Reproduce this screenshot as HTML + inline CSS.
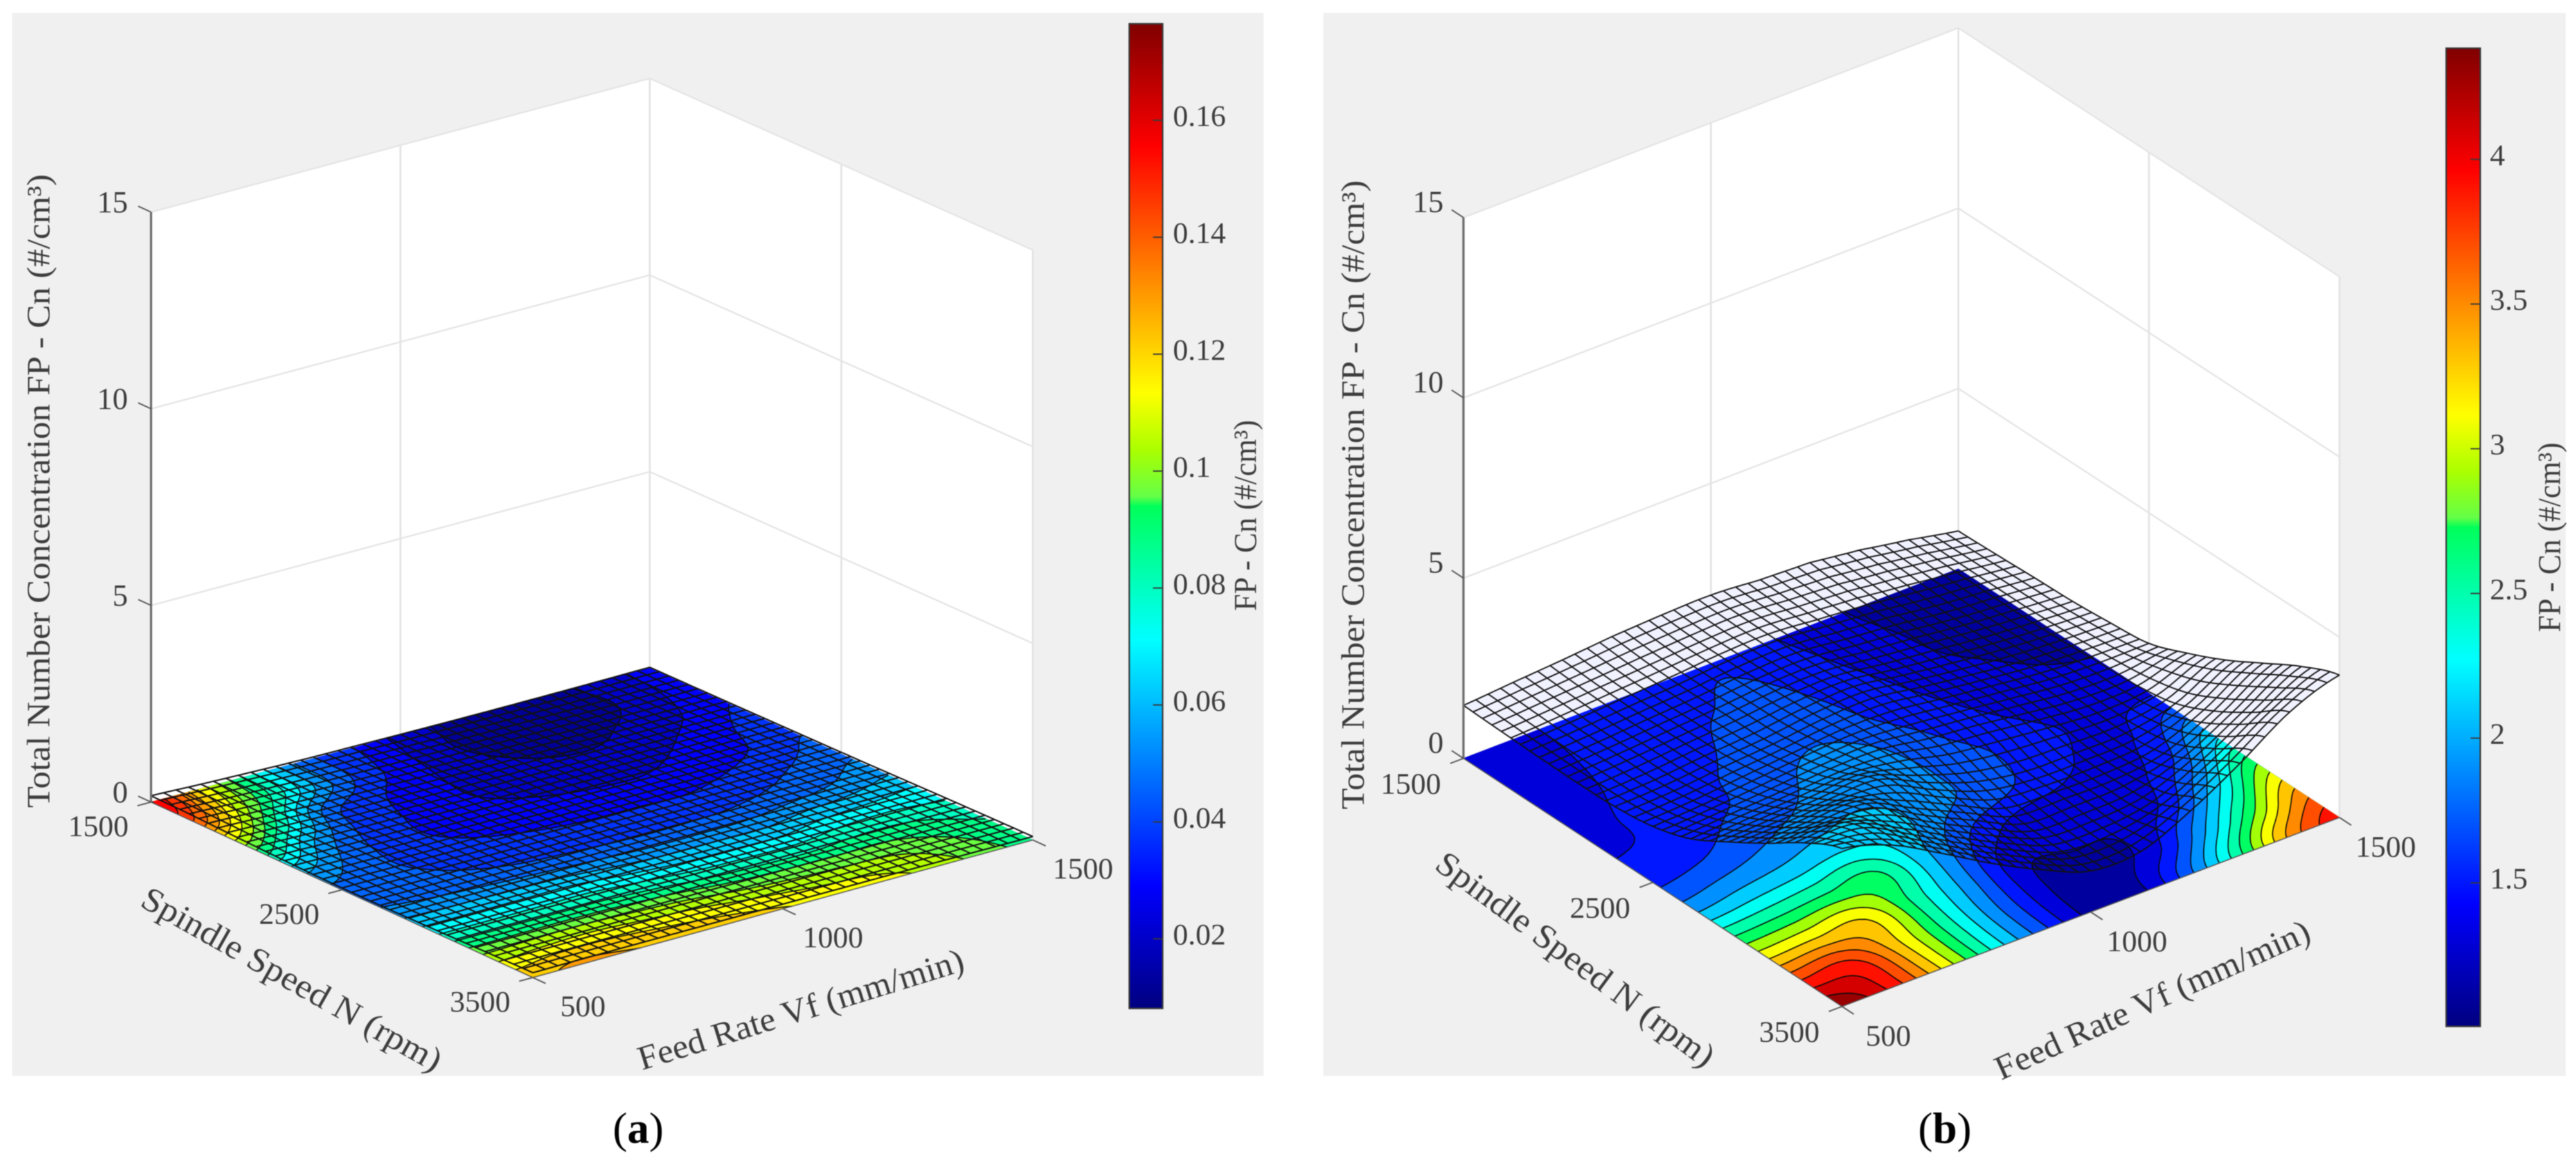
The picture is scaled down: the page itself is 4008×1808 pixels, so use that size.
<!DOCTYPE html>
<html lang="en">
<head>
<meta charset="utf-8">
<title>Total Number Concentration FP surfaces</title>
<style>
html,body{margin:0;padding:0;background:#fff;width:4008px;height:1808px;overflow:hidden}
svg{display:block;filter:blur(0.9px)}
text{font-family:"Liberation Serif",serif;fill:#3d3d3d}
</style>
</head>
<body>
<svg id="figure" xmlns="http://www.w3.org/2000/svg" width="4008" height="1808" viewBox="0 0 4008 1808">
  <defs>
    <linearGradient id="jetGradient" x1="0" y1="1" x2="0" y2="0">
      <stop offset="0" stop-color="#000080"/>
      <stop offset="0.125" stop-color="#0000ff"/>
      <stop offset="0.375" stop-color="#00ffff"/>
      <stop offset="0.51" stop-color="rgb(0,255,90)"/>
      <stop offset="0.52" stop-color="rgb(100,255,70)"/>
      <stop offset="0.567" stop-color="rgb(170,255,0)"/>
      <stop offset="0.625" stop-color="#ffff00"/>
      <stop offset="0.875" stop-color="#ff0000"/>
      <stop offset="1" stop-color="#800000"/>
    </linearGradient>
  </defs>
  <rect x="19" y="20" width="1947" height="1654" fill="#f0f0f0"/>
  <rect x="2059" y="20" width="1933" height="1654" fill="#f0f0f0"/>
  <g id="plotA"></g>
  <g id="plotB"></g>

  <text transform="translate(61 764) rotate(-90)" text-anchor="middle" dominant-baseline="central" font-size="51" textLength="986" lengthAdjust="spacingAndGlyphs">Total Number Concentration FP - Cn (#/cm³)</text>
  <text transform="translate(454 1524) rotate(29.5)" text-anchor="middle" dominant-baseline="central" font-size="53" textLength="528" lengthAdjust="spacingAndGlyphs">Spindle Speed N (rpm)</text>
  <text transform="translate(1246 1571) rotate(-17.2)" text-anchor="middle" dominant-baseline="central" font-size="53" textLength="528" lengthAdjust="spacingAndGlyphs">Feed Rate Vf (mm/min)</text>
  <text transform="translate(1937 802) rotate(-90)" text-anchor="middle" dominant-baseline="central" font-size="50" textLength="297" lengthAdjust="spacingAndGlyphs">FP - Cn (#/cm³)</text>

  <text transform="translate(2106 770) rotate(-90)" text-anchor="middle" dominant-baseline="central" font-size="51" textLength="979" lengthAdjust="spacingAndGlyphs">Total Number Concentration FP - Cn (#/cm³)</text>
  <text transform="translate(2451 1493) rotate(36.5)" text-anchor="middle" dominant-baseline="central" font-size="53" textLength="525" lengthAdjust="spacingAndGlyphs">Spindle Speed N (rpm)</text>
  <text transform="translate(3349 1556) rotate(-24.3)" text-anchor="middle" dominant-baseline="central" font-size="53" textLength="532" lengthAdjust="spacingAndGlyphs">Feed Rate Vf (mm/min)</text>
  <text transform="translate(3966 836) rotate(-90)" text-anchor="middle" dominant-baseline="central" font-size="50" textLength="295" lengthAdjust="spacingAndGlyphs">FP - Cn (#/cm³)</text>

  <text x="993" y="1778" text-anchor="middle" font-size="68" style="fill:#000">(<tspan font-weight="bold">a</tspan>)</text>
  <text x="3026" y="1778" text-anchor="middle" font-size="68" style="fill:#000">(<tspan font-weight="bold">b</tspan>)</text>
</svg>
<script>
// ---- chart data ----
const zTicks = [0, 5, 10, 15];
const spindleTicks = [1500, 2500, 3500];
const feedTicks = [500, 1000, 1500];
const colorbarTicksA = [0.02, 0.04, 0.06, 0.08, 0.1, 0.12, 0.14, 0.16];
const colorbarTicksB = [1.5, 2, 2.5, 3, 3.5, 4];
const colorRangeA = [0.0081, 0.1765];
const colorRangeB = [1.004, 4.384];
const levelStepA = 0.0084;
const levelStepB = 0.2;
// rows: spindle 1500 -> 3500, columns: feed 500 -> 1500
const valuesA = [
  [0.160,0.114,0.078,0.047,0.034,0.022,0.014,0.012,0.014,0.020,0.028],
  [0.145,0.105,0.073,0.046,0.031,0.020,0.012,0.010,0.013,0.020,0.030],
  [0.115,0.083,0.047,0.035,0.027,0.021,0.016,0.014,0.018,0.024,0.033],
  [0.085,0.058,0.039,0.032,0.026,0.023,0.021,0.021,0.024,0.030,0.038],
  [0.060,0.047,0.037,0.032,0.029,0.027,0.026,0.026,0.029,0.034,0.042],
  [0.048,0.044,0.040,0.037,0.035,0.034,0.034,0.034,0.037,0.042,0.048],
  [0.050,0.048,0.046,0.044,0.043,0.042,0.042,0.043,0.046,0.050,0.056],
  [0.065,0.065,0.065,0.065,0.062,0.060,0.060,0.060,0.064,0.066,0.068],
  [0.085,0.085,0.085,0.085,0.083,0.080,0.079,0.079,0.082,0.082,0.078],
  [0.107,0.109,0.110,0.108,0.106,0.102,0.100,0.099,0.098,0.092,0.085],
  [0.123,0.128,0.126,0.124,0.121,0.118,0.114,0.112,0.106,0.097,0.088]
];
const valuesB = [
  [1.35,1.38,1.43,1.50,1.55,1.58,1.45,1.30,1.17,1.08,1.03],
  [1.35,1.38,1.44,1.50,1.58,1.63,1.50,1.33,1.20,1.12,1.07],
  [1.35,1.39,1.47,1.54,1.66,1.70,1.55,1.38,1.22,1.16,1.12],
  [1.36,1.42,1.52,1.62,1.75,1.78,1.60,1.43,1.28,1.20,1.16],
  [1.40,1.45,1.58,1.68,1.85,1.92,1.70,1.50,1.35,1.27,1.25],
  [1.55,1.62,1.75,1.88,1.98,1.92,1.75,1.58,1.42,1.36,1.38],
  [1.90,2.00,2.08,2.18,2.12,1.85,1.70,1.52,1.38,1.42,1.80],
  [2.50,2.55,2.62,2.65,2.05,1.55,1.32,1.30,1.32,1.62,2.30],
  [3.15,3.20,3.20,2.55,1.90,1.28,1.24,1.24,1.45,2.10,2.90],
  [3.85,3.85,3.20,2.45,1.75,1.18,1.12,1.32,1.95,2.75,3.50],
  [4.38,3.95,3.20,2.40,1.70,1.14,1.15,1.75,2.55,3.45,3.95]
];
// extra height of the wire mesh along its back edge, feed 500 -> 1500
const meshLiftA = [0,0,0,0,0,0,0,0,0,0,0];
const meshLiftB = [0.12,0.20,0.25,0.30,0.32,0.32,0.35,0.45,0.40,0.25,0.02];

// ---- helpers ----
const NS = 'http://www.w3.org/2000/svg';
function mk(parent, tag, attrs, txt) {
  const el = document.createElementNS(NS, tag);
  for (const k in attrs) el.setAttribute(k, attrs[k]);
  if (txt !== undefined) el.textContent = txt;
  parent.appendChild(el);
  return el;
}
// colormap anchors as seen on the colorbar: position, r, g, b
const cmapAnchors = [
  [0, 0, 0, 128], [0.125, 0, 0, 255], [0.375, 0, 255, 255], [0.51, 0, 255, 90], [0.52, 100, 255, 70],
  [0.567, 170, 255, 0], [0.625, 255, 255, 0], [0.875, 255, 0, 0], [1, 128, 0, 0]
];
function jet(t) {
  t = Math.max(0, Math.min(1, t));
  let k = 0;
  while (k < cmapAnchors.length - 2 && t > cmapAnchors[k + 1][0]) k++;
  const a = cmapAnchors[k], b = cmapAnchors[k + 1], f = (t - a[0]) / (b[0] - a[0]);
  const c = (n) => Math.round(a[n] + (b[n] - a[n]) * f);
  return 'rgb(' + c(1) + ',' + c(2) + ',' + c(3) + ')';
}
function cr(a, b, c, d, t) {
  return 0.5 * (2 * b + (c - a) * t + (2 * a - 5 * b + 4 * c - d) * t * t + (3 * b - a - 3 * c + d) * t * t * t);
}
function sampleGrid(grid, u, v) {
  const n = grid.length - 1, m = grid[0].length - 1;
  const fx = Math.min(u * m, m - 1e-6), fy = Math.min(v * n, n - 1e-6);
  const i = Math.floor(fx), j = Math.floor(fy), tx = fx - i, ty = fy - j;
  const at = (jj, ii) => grid[Math.max(0, Math.min(n, jj))][Math.max(0, Math.min(m, ii))];
  const col = [];
  for (let q = -1; q <= 2; q++) col.push(cr(at(j + q, i - 1), at(j + q, i), at(j + q, i + 1), at(j + q, i + 2), tx));
  return cr(col[0], col[1], col[2], col[3], ty);
}

function drawPanel(root, cfg) {
  const L = cfg.L, B = cfg.B, F = cfg.F, R = cfg.R;
  const proj = (u, v, z) => {
    const x = (1 - u) * (1 - v) * L[0] + u * (1 - v) * B[0] + (1 - u) * v * F[0] + u * v * R[0];
    const y = (1 - u) * (1 - v) * L[1] + u * (1 - v) * B[1] + (1 - u) * v * F[1] + u * v * R[1];
    return [x, y - z * cfg.zs];
  };
  const feedFrac = (val) => (val - feedTicks[0]) / (feedTicks[feedTicks.length - 1] - feedTicks[0]);
  const spindleFrac = (val) => (val - spindleTicks[0]) / (spindleTicks[spindleTicks.length - 1] - spindleTicks[0]);
  const zMax = zTicks[zTicks.length - 1];
  const fmt = (p) => p[0].toFixed(1) + ' ' + p[1].toFixed(1);
  const unit = (a, b) => { const dx = b[0] - a[0], dy = b[1] - a[1], l = Math.hypot(dx, dy); return [dx / l, dy / l]; };

  // walls
  const wallL = mk(root, 'path', {d: 'M' + fmt(proj(0,0,0)) + 'L' + fmt(proj(0,0,zMax)) + 'L' + fmt(proj(1,0,zMax)) + 'L' + fmt(proj(1,0,0)) + 'Z', fill: '#fff'});
  
  
  const wallR = mk(root, 'path', {d: 'M' + fmt(proj(1,0,0)) + 'L' + fmt(proj(1,0,zMax)) + 'L' + fmt(proj(1,1,zMax)) + 'L' + fmt(proj(1,1,0)) + 'Z', fill: '#fff'});
  
  

  // gridlines
  const gridColor = '#e4e4e4';
  for (const z of zTicks) {
    const g = mk(root, 'path', {d: 'M' + fmt(proj(0,0,z)) + 'L' + fmt(proj(1,0,z)) + 'L' + fmt(proj(1,1,z)), fill: 'none', stroke: gridColor, 'stroke-width': 2.4});
    
    
  }
  const vMid = spindleFrac(spindleTicks[1]), uMid = feedFrac(feedTicks[1]);
  const vg = mk(root, 'path', {d: 'M' + fmt(proj(uMid,0,0)) + 'L' + fmt(proj(uMid,0,zMax)) + 'M' + fmt(proj(1,vMid,0)) + 'L' + fmt(proj(1,vMid,zMax)) + 'M' + fmt(proj(1,0,0)) + 'L' + fmt(proj(1,0,zMax)) + 'M' + fmt(proj(1,1,0)) + 'L' + fmt(proj(1,1,zMax)), fill: 'none', stroke: gridColor, 'stroke-width': 3});
  
  

  // mesh tint (under floor)
  const N = 40, sub = 2;
  const meshZ = (u, v) => {
    const fx = Math.min(u * (cfg.lift.length - 1), cfg.lift.length - 1 - 1e-6), i = Math.floor(fx), t = fx - i;
    const lf = cfg.lift[i] * (1 - t) + cfg.lift[i + 1] * t;
    const k = Math.max(0, 1 - v * 1.6);
    return sampleGrid(cfg.values, u, v) + lf * k * k;
  };
  if (cfg.tint) {
    let d = '';
    const steps = N * sub;
    for (let i = 0; i <= steps; i++) d += (i ? 'L' : 'M') + fmt(proj(i / steps, 0, meshZ(i / steps, 0)));
    for (let i = 0; i <= steps; i++) d += 'L' + fmt(proj(1, i / steps, meshZ(1, i / steps)));
    for (let i = steps; i >= 0; i--) d += 'L' + fmt(proj(i / steps, 1, meshZ(i / steps, 1)));
    for (let i = steps; i >= 0; i--) d += 'L' + fmt(proj(0, i / steps, meshZ(0, i / steps)));
    const tint = mk(root, 'path', {d: d + 'Z', fill: cfg.tint});
    
    
  }

  // filled contour floor
  const FN = 110;
  const zs = [], pts = [];
  for (let j = 0; j <= FN; j++) {
    const rowZ = [], rowP = [];
    for (let i = 0; i <= FN; i++) {
      rowZ.push(sampleGrid(cfg.values, i / FN, j / FN));
      rowP.push(proj(i / FN, j / FN, 0));
    }
    zs.push(rowZ); pts.push(rowP);
  }
  const cMin = cfg.range[0], cMax = cfg.range[1];
  const col = (z) => jet((z - cMin) / (cMax - cMin));
  const levels = [];
  for (let lv = cMin + cfg.step; lv < cMax; lv += cfg.step) levels.push(lv);

  const floorGroup = mk(root, 'g', {});
  
  
  const baseColor = col(cMin + cfg.step / 2);
  const base = mk(floorGroup, 'path', {d: 'M' + fmt(proj(0,0,0)) + 'L' + fmt(proj(1,0,0)) + 'L' + fmt(proj(1,1,0)) + 'L' + fmt(proj(0,1,0)) + 'Z', fill: baseColor, stroke: baseColor, 'stroke-width': 0.6});
  
  

  const lerpP = (a, b, t) => [a[0] + (b[0] - a[0]) * t, a[1] + (b[1] - a[1]) * t];
  const lineParts = [];
  levels.forEach((lv) => {
    let band = '', line = '';
    for (let j = 0; j < FN; j++) {
      for (let i = 0; i < FN; i++) {
        const cz = [zs[j][i], zs[j][i + 1], zs[j + 1][i + 1], zs[j + 1][i]];
        const cp = [pts[j][i], pts[j][i + 1], pts[j + 1][i + 1], pts[j + 1][i]];
        if (cz[0] < lv && cz[1] < lv && cz[2] < lv && cz[3] < lv) continue;
        const poly = [], cross = [];
        for (let e = 0; e < 4; e++) {
          const a = cz[e], b = cz[(e + 1) % 4];
          if (a >= lv) poly.push(cp[e]);
          if ((a >= lv) !== (b >= lv)) {
            const p = lerpP(cp[e], cp[(e + 1) % 4], (lv - a) / (b - a));
            poly.push(p); cross.push(p);
          }
        }
        band += 'M' + poly.map(fmt).join('L') + 'Z';
        for (let c = 0; c + 1 < cross.length; c += 2) line += 'M' + fmt(cross[c]) + 'L' + fmt(cross[c + 1]);
      }
    }
    if (!band) return;
    const color = col(lv + cfg.step / 2);
    const bp = mk(floorGroup, 'path', {d: band, fill: color, stroke: color, 'stroke-width': 0.6});
    
    
    lineParts.push(line);
  });
  const contourLines = mk(floorGroup, 'path', {d: lineParts.join(''), fill: 'none', stroke: '#0a0a0a', 'stroke-width': 1.7});
  
  

  // wire mesh
  let md = '';
  for (let a = 0; a <= N; a++) {
    let d1 = '', d2 = '';
    for (let s = 0; s <= N * sub; s++) {
      const t = s / (N * sub), q = a / N;
      d1 += (s ? 'L' : 'M') + fmt(proj(q, t, meshZ(q, t)));
      d2 += (s ? 'L' : 'M') + fmt(proj(t, q, meshZ(t, q)));
    }
    md += d1 + d2;
  }
  const mesh = mk(root, 'path', {d: md, fill: 'none', stroke: '#111', 'stroke-width': cfg.meshWidth, 'stroke-linejoin': 'round'});
  
  

  // axis lines
  const axes = mk(root, 'path', {d: 'M' + fmt(proj(0,0,0)) + 'L' + fmt(proj(0,1,0)) + 'L' + fmt(proj(1,1,0)), fill: 'none', stroke: '#555', 'stroke-width': 1.6});
  
  
  const zAxis = mk(root, 'path', {d: 'M' + fmt(proj(0,0,0)) + 'L' + fmt(proj(0,0,zMax)), fill: 'none', stroke: '#6a6a6a', 'stroke-width': 3.4});
  
  

  // ticks and tick labels
  const uDir = unit(proj(0,0,0), proj(1,0,0));
  const vDir = unit(proj(0,0,0), proj(0,1,0));
  const TL = 22;
  const tick = (p, dx, dy) => mk(root, 'line', {x1: p[0], y1: p[1], x2: p[0] + dx * TL, y2: p[1] + dy * TL, stroke: '#555', 'stroke-width': 2});
  for (const z of zTicks) {
    const p = proj(0, 0, z);
    const t = tick(p, -vDir[0], -vDir[1]);
    
    
    const lb = mk(root, 'text', {x: p[0] + cfg.zLabel[0], y: p[1] + cfg.zLabel[1], 'text-anchor': 'end', 'dominant-baseline': 'central', 'font-size': 48}, String(z));
    
    
  }
  for (const s of spindleTicks) {
    const p = proj(0, spindleFrac(s), 0);
    const t = tick(p, -uDir[0], -uDir[1]);
    
    
    const lb = mk(root, 'text', {x: p[0] + cfg.spLabel[0], y: p[1] + cfg.spLabel[1], 'text-anchor': 'middle', 'dominant-baseline': 'central', 'font-size': 47}, String(s));
    
    
  }
  for (const f of feedTicks) {
    const p = proj(feedFrac(f), 1, 0);
    const t = tick(p, vDir[0], vDir[1]);
    
    
    const lb = mk(root, 'text', {x: p[0] + cfg.feedLabel[0], y: p[1] + cfg.feedLabel[1], 'text-anchor': 'middle', 'dominant-baseline': 'central', 'font-size': 47}, String(f));
    
    
  }

  // colorbar
  const cb = cfg.cb;
  const cbBox = mk(root, 'rect', {x: cb.x, y: cb.top, width: cb.w, height: cb.bottom - cb.top, fill: 'url(#jetGradient)', stroke: '#3a3a3a', 'stroke-width': 2.4});
  
  
  const cbY = (val) => cb.bottom - (val - cMin) / (cMax - cMin) * (cb.bottom - cb.top);
  for (const val of cfg.cbTicks) {
    const y = cbY(val);
    const t = mk(root, 'line', {x1: cb.x + cb.w - 15, y1: y, x2: cb.x + cb.w, y2: y, stroke: '#3a3a3a', 'stroke-width': 2});
    
    
    const lb = mk(root, 'text', {x: cb.labelX, y: y - 6, 'dominant-baseline': 'central', 'font-size': 47}, String(val));
    
    
  }
}

drawPanel(document.getElementById('plotA'), {
  L: [235, 1248], B: [1011, 1040], F: [829, 1521], R: [1607, 1307], zs: 61.2,
  values: valuesA, lift: meshLiftA, range: colorRangeA, step: levelStepA, meshWidth: 2.2, tint: null,
  zLabel: [-36, -15], spLabel: [-82, 38], feedLabel: [78, 45],
  cb: {x: 1757, w: 52, top: 37, bottom: 1569, labelX: 1825}, cbTicks: colorbarTicksA
});
drawPanel(document.getElementById('plotB'), {
  L: [2277, 1180], B: [3047, 885], F: [2866, 1566], R: [3640, 1272], zs: 56.1,
  values: valuesB, lift: meshLiftB, range: colorRangeB, step: levelStepB, meshWidth: 2.0, tint: '#f1f2ff',
  zLabel: [-31, -24], spLabel: [-82, 40], feedLabel: [72, 46],
  cb: {x: 3806, w: 53, top: 75, bottom: 1597, labelX: 3874}, cbTicks: colorbarTicksB
});
</script>
</body>
</html>
